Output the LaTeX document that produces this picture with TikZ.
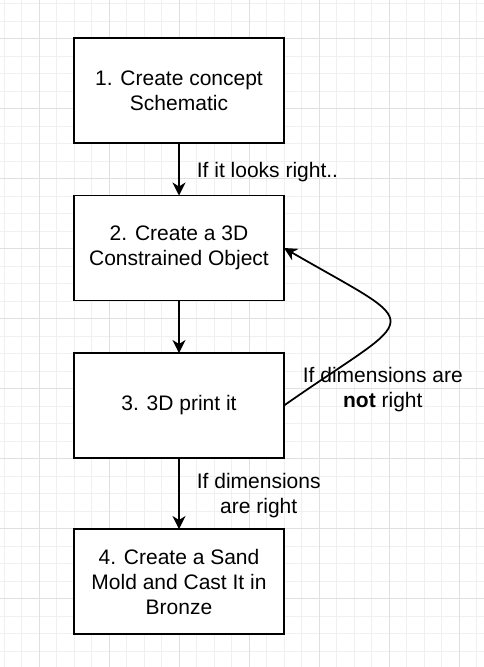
\documentclass[tikz,border=0pt]{standalone}
\usepackage{fontspec}
\setmainfont{Liberation Sans}
\usetikzlibrary{positioning,arrows.meta}
\definecolor{gridminor}{HTML}{F0F0F0}
\definecolor{gridmajor}{HTML}{E0E0E0}

\begin{document}
\begin{tikzpicture}[x=1pt,y=1pt,node distance=52.5pt,
                    line width=1.75pt,>={Stealth[length=13pt,width=13pt,inset=4pt]},
                    main node/.style={rectangle,draw,fill=white,outer sep=0pt,minimum width=210pt,minimum height=105pt,
                                      align=center,font=\fontsize{21}{25}\selectfont},
                    edge text/.style={inner sep=0pt,align=center,font=\fontsize{21}{25}\selectfont}]

  \useasboundingbox (0,0) rectangle (484,-667);
  \fill[white] (0,0) rectangle (484,-667);

  % background grid
  \foreach \x in {4,21.5,...,484} \draw[gridminor,line width=1pt] (\x,0) -- (\x,-667);
  \foreach \y in {3.5,21,...,667} \draw[gridminor,line width=1pt] (0,-\y) -- (484,-\y);
  \foreach \x in {39,109,...,484} \draw[gridmajor,line width=1pt] (\x,0) -- (\x,-667);
  \foreach \y in {38.5,108.5,...,667} \draw[gridmajor,line width=1pt] (0,-\y) -- (484,-\y);

  \node[main node] (1) at (179,-90.5) {1. Create concept\\Schematic};
  \node[main node] (2) [below=of 1] {2. Create a 3D\\Constrained Object};
  \node[main node] (3) [below=of 2] {3. 3D print it};
  \node[main node] (4) [below=71pt of 3] {4. Create a Sand\\Mold and Cast It in\\Bronze};

  \node[edge text] (notright) [right=18pt of 3, yshift=15.5pt] {If dimensions are\\\textbf{not} right};

  \path[->]
    (1) edge node [edge text, right=17pt, yshift=-3pt] {If it looks right..} (2)
    (2) edge (3)
    (3) edge node [edge text, right=17pt, yshift=-2pt] {If dimensions\\are right} (4)
    (3.east) edge [out=35,in=-30,looseness=2.72] (2.east);
\end{tikzpicture}
\end{document}
